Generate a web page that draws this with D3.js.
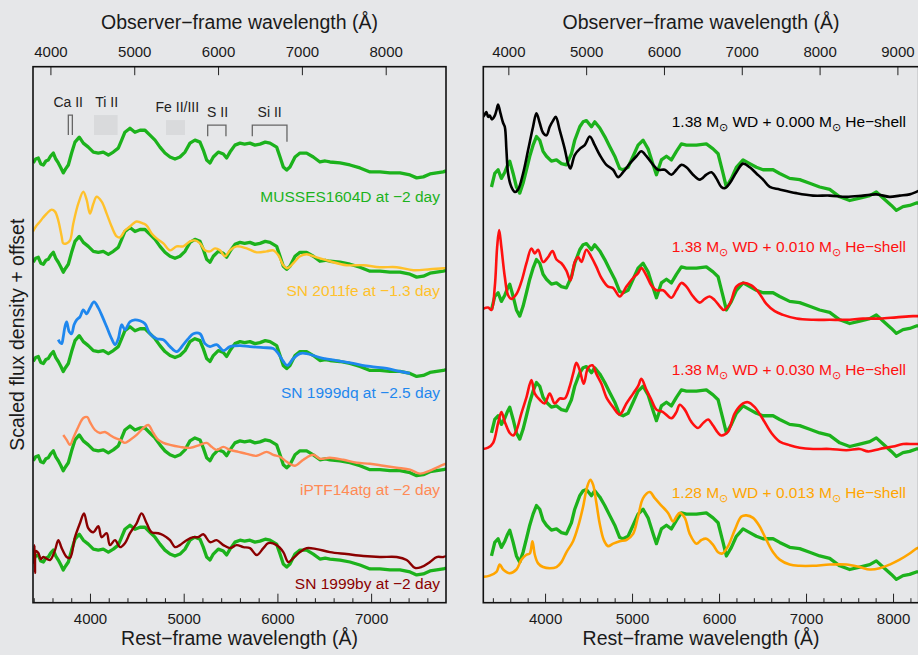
<!DOCTYPE html>
<html><head><meta charset="utf-8">
<script src="https://cdn.jsdelivr.net/npm/d3@7"></script>
<style>
body{margin:0;background:#e6e7e9;}
svg{display:block;font-family:"Liberation Sans",Arial,Helvetica,sans-serif;}
</style></head><body>
<svg id="chart" width="918" height="655"></svg>
<script>
// ---------------- DATA ----------------
const redshift = 0.118;

// MUSSES1604D as drawn in the left panel: [rest wavelength (Å), scaled flux]
const musses_left = [[3395,0.43],[3420,0.47],[3449,0.48],[3475,0.42],[3502,0.41],[3530,0.45],[3555,0.46],[3580,0.50],[3609,0.53],[3635,0.47],[3662,0.43],[3690,0.38],[3715,0.33],[3740,0.37],[3769,0.41],[3804,0.53],[3840,0.64],[3886,0.69],[3929,0.63],[3982,0.59],[4036,0.54],[4089,0.53],[4142,0.54],[4196,0.51],[4249,0.54],[4302,0.58],[4338,0.66],[4373,0.74],[4427,0.78],[4480,0.74],[4534,0.76],[4587,0.76],[4640,0.71],[4694,0.66],[4747,0.59],[4800,0.53],[4854,0.49],[4907,0.47],[4960,0.49],[5014,0.54],[5067,0.63],[5120,0.66],[5174,0.64],[5209,0.56],[5245,0.46],[5281,0.43],[5316,0.49],[5369,0.54],[5423,0.52],[5458,0.48],[5494,0.54],[5547,0.61],[5601,0.63],[5650,0.62],[5707,0.63],[5760,0.61],[5814,0.62],[5870,0.64],[5921,0.63],[5992,0.59],[6028,0.49],[6063,0.39],[6099,0.36],[6134,0.39],[6188,0.49],[6241,0.53],[6312,0.53],[6383,0.49],[6454,0.44],[6510,0.45],[6561,0.44],[6668,0.43],[6774,0.41],[6881,0.38],[6988,0.34],[7094,0.34],[7201,0.33],[7308,0.33],[7415,0.31],[7486,0.28],[7557,0.29],[7628,0.32],[7699,0.33],[7770,0.34],[7800,0.35]];

const sn2011fe = [[3392,0.74],[3430,0.80],[3467,0.84],[3500,0.88],[3538,0.92],[3591,0.96],[3627,0.94],[3662,0.85],[3698,0.69],[3715,0.62],[3751,0.62],[3787,0.65],[3822,0.82],[3875,1.02],[3929,1.14],[3964,1.06],[4000,0.92],[4036,1.02],[4071,1.09],[4125,1.04],[4178,0.92],[4231,0.79],[4285,0.69],[4320,0.68],[4373,0.75],[4427,0.79],[4462,0.82],[4498,0.84],[4569,0.82],[4605,0.80],[4658,0.72],[4711,0.67],[4783,0.62],[4854,0.55],[4925,0.59],[4996,0.59],[5067,0.64],[5120,0.65],[5174,0.62],[5227,0.55],[5281,0.54],[5334,0.57],[5387,0.55],[5441,0.49],[5494,0.55],[5565,0.59],[5672,0.57],[5779,0.53],[5885,0.54],[5956,0.55],[6010,0.50],[6063,0.40],[6106,0.37],[6170,0.42],[6241,0.49],[6312,0.51],[6419,0.48],[6561,0.44],[6739,0.40],[6917,0.40],[7094,0.38],[7273,0.38],[7450,0.35],[7628,0.36],[7770,0.37],[7800,0.37]];

const sn1999dq = [[3662,0.65],[3680,0.62],[3698,0.61],[3715,0.68],[3733,0.78],[3751,0.83],[3779,0.73],[3804,0.71],[3830,0.80],[3858,0.85],[3893,0.88],[3929,0.95],[3964,0.91],[4000,0.97],[4043,1.03],[4089,0.97],[4124,0.90],[4178,0.78],[4231,0.66],[4267,0.60],[4302,0.66],[4338,0.80],[4373,0.75],[4427,0.83],[4480,0.85],[4534,0.84],[4587,0.81],[4640,0.71],[4711,0.66],[4783,0.65],[4854,0.58],[4925,0.53],[4996,0.60],[5049,0.66],[5103,0.71],[5174,0.71],[5227,0.61],[5281,0.58],[5352,0.60],[5423,0.54],[5494,0.58],[5601,0.59],[5707,0.58],[5850,0.57],[5956,0.56],[6010,0.51],[6063,0.43],[6106,0.39],[6170,0.46],[6241,0.51],[6312,0.51],[6454,0.47],[6632,0.44],[6810,0.41],[6988,0.38],[7166,0.36],[7308,0.33],[7415,0.31]];

const iptf14atg = [[3715,0.69],[3751,0.64],[3787,0.59],[3822,0.66],[3875,0.77],[3929,0.86],[3972,0.87],[4000,0.82],[4053,0.74],[4107,0.71],[4160,0.72],[4213,0.69],[4267,0.66],[4320,0.64],[4373,0.61],[4427,0.64],[4498,0.69],[4569,0.76],[4622,0.79],[4676,0.71],[4729,0.64],[4783,0.61],[4854,0.59],[4960,0.57],[5067,0.56],[5174,0.59],[5245,0.61],[5298,0.57],[5352,0.54],[5423,0.57],[5494,0.54],[5583,0.52],[5672,0.50],[5779,0.48],[5885,0.52],[5956,0.49],[6028,0.47],[6099,0.42],[6188,0.38],[6277,0.44],[6383,0.49],[6454,0.45],[6561,0.46],[6703,0.44],[6846,0.41],[6988,0.40],[7130,0.38],[7273,0.36],[7415,0.34],[7522,0.30],[7628,0.33],[7770,0.39],[7800,0.40]];

const sn1999by = [[3392,0.50],[3400,0.40],[3408,0.58],[3413,0.30],[3425,0.52],[3449,0.50],[3475,0.44],[3502,0.46],[3573,0.43],[3627,0.53],[3662,0.63],[3698,0.55],[3751,0.46],[3787,0.45],[3840,0.66],[3893,0.80],[3936,0.90],[3982,0.75],[4036,0.71],[4089,0.77],[4124,0.66],[4178,0.70],[4213,0.58],[4267,0.63],[4320,0.56],[4373,0.60],[4427,0.70],[4498,0.80],[4551,0.90],[4605,0.80],[4658,0.71],[4729,0.70],[4783,0.68],[4854,0.63],[4907,0.56],[4960,0.58],[5031,0.63],[5103,0.66],[5156,0.66],[5209,0.69],[5281,0.61],[5352,0.63],[5423,0.58],[5494,0.55],[5565,0.58],[5636,0.56],[5707,0.55],[5779,0.48],[5850,0.55],[5903,0.60],[5992,0.58],[6063,0.51],[6116,0.41],[6170,0.45],[6241,0.51],[6312,0.55],[6419,0.54],[6561,0.51],[6739,0.49],[6917,0.47],[7094,0.46],[7273,0.46],[7379,0.43],[7468,0.35],[7539,0.36],[7628,0.41],[7699,0.46],[7770,0.46],[7800,0.47]];

// MUSSES1604D as drawn in the right panel (different normalisation)
const musses_right = [[3384,0.38],[3422,0.49],[3460,0.52],[3498,0.45],[3537,0.50],[3565,0.55],[3594,0.59],[3633,0.49],[3671,0.38],[3709,0.33],[3747,0.41],[3786,0.52],[3824,0.63],[3862,0.72],[3901,0.79],[3939,0.76],[3977,0.67],[4016,0.63],[4073,0.59],[4131,0.60],[4188,0.57],[4245,0.56],[4303,0.65],[4341,0.76],[4399,0.87],[4437,0.91],[4475,0.92],[4533,0.87],[4571,0.91],[4629,0.86],[4686,0.79],[4743,0.71],[4801,0.63],[4858,0.53],[4897,0.52],[4954,0.54],[5012,0.63],[5069,0.72],[5127,0.76],[5184,0.69],[5242,0.56],[5280,0.48],[5337,0.60],[5395,0.63],[5452,0.60],[5510,0.67],[5567,0.73],[5625,0.72],[5740,0.72],[5854,0.73],[5931,0.69],[5989,0.65],[6046,0.49],[6084,0.38],[6142,0.45],[6199,0.54],[6276,0.60],[6353,0.57],[6429,0.54],[6506,0.52],[6621,0.52],[6697,0.49],[6812,0.45],[6927,0.44],[7042,0.41],[7157,0.38],[7272,0.36],[7387,0.30],[7502,0.27],[7617,0.29],[7732,0.31],[7808,0.34],[7885,0.29],[7981,0.23],[8038,0.19],[8115,0.22],[8191,0.23],[8268,0.25],[8300,0.25]];

const model_138_000 = [[3288,0.95],[3307,0.97],[3326,0.99],[3345,0.95],[3364,0.96],[3390,0.93],[3422,0.96],[3440,1.00],[3460,1.05],[3487,0.98],[3518,0.90],[3537,0.87],[3556,0.68],[3575,0.49],[3613,0.38],[3652,0.34],[3690,0.36],[3747,0.49],[3805,0.68],[3862,0.87],[3901,0.98],[3939,0.90],[3977,0.82],[4016,0.80],[4054,0.87],[4092,0.92],[4123,0.95],[4169,0.84],[4226,0.69],[4265,0.57],[4291,0.53],[4341,0.64],[4399,0.69],[4456,0.72],[4514,0.79],[4571,0.72],[4629,0.64],[4705,0.56],[4782,0.52],[4839,0.46],[4897,0.50],[4973,0.57],[5050,0.63],[5107,0.67],[5165,0.63],[5242,0.56],[5299,0.52],[5376,0.52],[5452,0.48],[5510,0.52],[5567,0.56],[5625,0.54],[5701,0.48],[5778,0.44],[5854,0.48],[5912,0.50],[5969,0.45],[6027,0.38],[6065,0.37],[6123,0.41],[6199,0.50],[6276,0.57],[6353,0.54],[6429,0.49],[6506,0.44],[6583,0.38],[6697,0.36],[6889,0.33],[7080,0.31],[7272,0.31],[7464,0.30],[7655,0.31],[7808,0.32],[7961,0.30],[8076,0.31],[8191,0.32],[8268,0.34],[8300,0.35]];

const model_138_010 = [[3288,0.39],[3345,0.40],[3384,0.38],[3422,0.57],[3449,0.89],[3472,1.03],[3498,0.89],[3537,0.65],[3575,0.50],[3613,0.47],[3671,0.51],[3728,0.61],[3786,0.76],[3843,0.88],[3882,0.84],[3920,0.87],[3977,0.77],[4035,0.81],[4085,0.86],[4131,0.79],[4188,0.76],[4245,0.70],[4291,0.62],[4341,0.77],[4380,0.81],[4418,0.77],[4475,0.87],[4533,0.81],[4590,0.73],[4648,0.64],[4724,0.57],[4782,0.56],[4858,0.49],[4935,0.57],[5012,0.64],[5069,0.68],[5107,0.72],[5165,0.66],[5222,0.58],[5280,0.54],[5356,0.54],[5452,0.48],[5510,0.54],[5567,0.60],[5625,0.57],[5701,0.49],[5778,0.44],[5835,0.47],[5893,0.49],[5950,0.46],[6008,0.41],[6054,0.38],[6123,0.43],[6199,0.57],[6276,0.60],[6372,0.58],[6448,0.53],[6544,0.43],[6640,0.37],[6736,0.34],[6889,0.31],[7080,0.30],[7272,0.30],[7464,0.30],[7655,0.31],[7847,0.31],[8038,0.32],[8230,0.33],[8300,0.33]];

const model_138_030 = [[3288,0.25],[3345,0.26],[3403,0.30],[3460,0.46],[3498,0.55],[3537,0.47],[3594,0.38],[3633,0.36],[3671,0.40],[3728,0.54],[3786,0.67],[3843,0.81],[3882,0.70],[3939,0.65],[3996,0.62],[4054,0.70],[4111,0.62],[4169,0.66],[4226,0.66],[4284,0.76],[4322,0.86],[4360,0.95],[4399,0.89],[4445,0.78],[4494,0.91],[4544,0.93],[4590,0.86],[4648,0.78],[4705,0.67],[4782,0.59],[4858,0.53],[4935,0.62],[5012,0.70],[5069,0.76],[5107,0.82],[5165,0.73],[5222,0.65],[5280,0.57],[5356,0.55],[5452,0.50],[5510,0.55],[5548,0.61],[5606,0.57],[5682,0.47],[5759,0.42],[5816,0.46],[5874,0.49],[5931,0.44],[5989,0.38],[6027,0.36],[6104,0.39],[6180,0.54],[6276,0.62],[6333,0.63],[6410,0.59],[6506,0.49],[6602,0.38],[6697,0.31],[6812,0.28],[6927,0.26],[7080,0.25],[7272,0.25],[7464,0.24],[7617,0.25],[7713,0.23],[7847,0.25],[8000,0.27],[8115,0.29],[8230,0.29],[8300,0.29]];

const model_128_013 = [[3288,0.21],[3364,0.22],[3441,0.25],[3479,0.31],[3518,0.27],[3594,0.24],[3671,0.27],[3728,0.35],[3786,0.39],[3824,0.40],[3855,0.50],[3882,0.39],[3920,0.32],[3977,0.29],[4054,0.28],[4131,0.29],[4188,0.33],[4245,0.41],[4322,0.50],[4380,0.62],[4437,0.78],[4483,0.94],[4521,1.00],[4552,0.96],[4590,0.81],[4629,0.64],[4675,0.51],[4724,0.46],[4782,0.48],[4858,0.50],[4935,0.51],[5012,0.56],[5069,0.70],[5127,0.85],[5203,0.90],[5261,0.85],[5337,0.79],[5414,0.73],[5471,0.66],[5510,0.70],[5548,0.73],[5606,0.69],[5663,0.56],[5740,0.48],[5797,0.51],[5854,0.52],[5931,0.47],[5989,0.41],[6038,0.40],[6104,0.46],[6180,0.59],[6257,0.70],[6314,0.71],[6391,0.69],[6467,0.62],[6544,0.51],[6621,0.41],[6697,0.35],[6812,0.31],[6927,0.30],[7080,0.30],[7272,0.31],[7464,0.31],[7617,0.29],[7732,0.27],[7847,0.28],[7962,0.31],[8076,0.35],[8191,0.40],[8268,0.44],[8300,0.45]];

// left panel comparison objects (top to bottom)
const leftNames   = ["MUSSES1604D at \u22122 day","SN 2011fe at \u22121.3 day","SN 1999dq at \u22122.5 day","iPTF14atg at \u22122 day","SN 1999by at \u22122 day"];
const leftSpectra = [null, sn2011fe, sn1999dq, iptf14atg, sn1999by];
const leftOffsets = [4, 3, 2, 1, 0];

// right panel models (top to bottom)
const wdMass   = ["1.38","1.38","1.38","1.28"];
const heMass   = ["0.000","0.010","0.030","0.013"];
const models   = [model_138_000, model_138_010, model_138_030, model_128_013];
const rightOffsets = [3, 2, 1, 0];

// line identifications: [name, blue edge, red edge] in rest-frame Å
const lineNames = ["Ca II","Ti II","Fe II/III","S II","Si II"];
const lineLo    = [3769, 4043, 4811, 5256, 5732];
const lineHi    = [3812, 4295, 5014, 5451, 6102];

// axis ticks
const leftMajor  = [4000,5000,6000,7000];
const rightMajor = [4000,5000,6000,7000,8000];
const leftObs    = [4000,5000,6000,7000,8000];
const rightObs   = [4000,5000,6000,7000,8000,9000];

// ---------------- STYLE / LAYOUT ----------------
const cGreen = "#1cb21c";
const leftColors  = [cGreen, "#ffc12b", "#1f87ee", "#ff8a55", "#8b0000"];
const modelColors = ["#000000", "#ff1010", "#ff1010", "#ffa500"];
const leftLabelY  = [4.037, 3.09, 2.062, 1.085, 0.137];
const rightLabelY = [3.868, 2.854, 1.851, 0.849];
const markType = ["bracket","box","box","bracket","bracket"];
const markLabelX = [3768, 4178, 4932, 5362, 5917];
const markLabelY = [4.99, 4.99, 4.94, 4.89, 4.89];
const markTop = [4.913, 4.913, 4.862, 4.812, 4.812];
const markBotL = [4.712, 4.712, 4.712, 4.70, 4.70];
const markBotR = [4.712, 4.712, 4.712, 4.70, 4.644];

const FONT = '"Liberation Sans",Arial,Helvetica,sans-serif';
const svg = d3.select("#chart");
svg.append("rect").attr("width",918).attr("height",655).attr("fill","#e6e7e9");

const yTop = 66.7, yBot = 602.7;
const L = {x0:33, x1:446};
const R = {x0:483.3, x1:918.7};

const xL = d3.scaleLinear().domain([3392,7799]).range([L.x0,L.x1]);
const yL = d3.scaleLinear().domain([0,5.4]).range([yBot,yTop]);
const xR = d3.scaleLinear().domain([3290,8295]).range([R.x0,R.x1]);
const yR = d3.scaleLinear().domain([0,4.358]).range([yBot,yTop]);

function range200(a,b){const r=[];for(let v=a;v<=b;v+=200)r.push(v);return r;}

function clip(id, P){
  svg.append("clipPath").attr("id",id).append("rect")
    .attr("x",P.x0).attr("y",yTop).attr("width",P.x1-P.x0).attr("height",yBot-yTop);
}
clip("clipL",L); clip("clipR",R);

function axes(P, x, major, obsTicks){
  const minor = range200(Math.ceil(x.domain()[0]/200)*200, x.domain()[1]).filter(v=>major.indexOf(v)<0);
  const gB = svg.append("g").attr("transform",`translate(0,${yBot})`);
  gB.call(d3.axisBottom(x).tickValues(minor).tickSize(-4.5).tickFormat(""));
  const gB2 = svg.append("g").attr("transform",`translate(0,${yBot})`);
  gB2.call(d3.axisBottom(x).tickValues(major).tickSize(-9).tickPadding(10.5).tickFormat(d3.format("d")));
  const obs = d3.scaleLinear().domain(x.domain().map(d=>d*(1+redshift))).range(x.range());
  const gT = svg.append("g").attr("transform",`translate(0,${yTop})`);
  gT.call(d3.axisTop(obs).tickValues(obsTicks).tickSize(-8.5).tickPadding(10).tickFormat(d3.format("d")));
  [gB,gB2,gT].forEach(g=>{
    g.select(".domain").remove();
    g.selectAll("line").attr("stroke","#222").attr("stroke-width",1);
    g.selectAll("text").attr("font-size",15).attr("font-family",FONT).attr("fill","#1a1a1a");
  });
  const cx = (P.x0+P.x1)/2;
  svg.append("text").attr("x",cx).attr("y",29).attr("text-anchor","middle")
    .attr("font-size",19.5).attr("fill","#1a1a1a").text("Observer\u2212frame wavelength (\u00c5)");
  svg.append("text").attr("x",cx).attr("y",645).attr("text-anchor","middle")
    .attr("font-size",19.5).attr("fill","#1a1a1a").text("Rest\u2212frame wavelength (\u00c5)");
}

function lineGen(x,y,off,curve){
  return d3.line().x(d=>x(d[0])).y(d=>y(d[1]+off)).curve(curve);
}
const smooth = d3.curveCatmullRom.alpha(0.5);

// ---- left panel ----
const gL = svg.append("g").attr("clip-path","url(#clipL)");
leftOffsets.forEach((off,i)=>{
  gL.append("path").datum(musses_left).attr("fill","none").attr("stroke",cGreen)
    .attr("stroke-width",3.3).attr("stroke-linejoin","round")
    .attr("d",lineGen(xL,yL,off,d3.curveLinear));
  if(leftSpectra[i]){
    gL.append("path").datum(leftSpectra[i]).attr("fill","none").attr("stroke",leftColors[i])
      .attr("stroke-width",i===2?2.8:2.4).attr("stroke-linejoin","round")
      .attr("d",lineGen(xL,yL,off,smooth));
  }
});
leftNames.forEach((n,i)=>{
  svg.append("text").attr("x",L.x1-6).attr("y",yL(leftLabelY[i])).attr("text-anchor","end")
    .attr("font-size",15.5).attr("fill",leftColors[i]).text(n);
});

// line identification marks
lineNames.forEach((n,i)=>{
  const a = xL(lineLo[i]), b = xL(lineHi[i]);
  if(markType[i]==="box"){
    svg.append("rect").attr("x",a).attr("y",yL(markTop[i])).attr("width",b-a)
      .attr("height",yL(markBotL[i])-yL(markTop[i])).attr("fill","#d9dadc");
  } else {
    svg.append("path").attr("fill","none").attr("stroke","#666").attr("stroke-width",1.3)
      .attr("d",`M${a},${yL(markBotL[i])}V${yL(markTop[i])}H${b}V${yL(markBotR[i])}`);
  }
  svg.append("text").attr("x",xL(markLabelX[i])).attr("y",yL(markLabelY[i]))
    .attr("text-anchor","middle").attr("font-size",14).attr("fill","#222").text(n);
});

// ---- right panel ----
const gR = svg.append("g").attr("clip-path","url(#clipR)");
rightOffsets.forEach((off,i)=>{
  gR.append("path").datum(musses_right).attr("fill","none").attr("stroke",cGreen)
    .attr("stroke-width",3.3).attr("stroke-linejoin","round")
    .attr("d",lineGen(xR,yR,off,d3.curveLinear));
  gR.append("path").datum(models[i]).attr("fill","none").attr("stroke",modelColors[i])
    .attr("stroke-width",2.6).attr("stroke-linejoin","round")
    .attr("d",lineGen(xR,yR,off,smooth));
});
models.forEach((m,i)=>{
  const t = svg.append("text").attr("x",R.x1-12.7).attr("y",yR(rightLabelY[i]))
    .attr("text-anchor","end").attr("font-size",15.5).attr("fill",modelColors[i]);
  t.append("tspan").text(wdMass[i]+" M");
  t.append("tspan").attr("font-size",11).attr("dy",4).text("\u2299");
  t.append("tspan").attr("dy",-4).text(" WD + "+heMass[i]+" M");
  t.append("tspan").attr("font-size",11).attr("dy",4).text("\u2299");
  t.append("tspan").attr("dy",-4).text(" He\u2212shell");
});

axes(L,xL,leftMajor,leftObs);
axes(R,xR,rightMajor,rightObs);

// frames
[L,R].forEach(P=>{
  svg.append("rect").attr("x",P.x0).attr("y",yTop).attr("width",P.x1-P.x0).attr("height",yBot-yTop)
    .attr("fill","none").attr("stroke","#111").attr("stroke-width",1.6);
});

// y label
svg.append("text").attr("transform",`translate(24,${(yTop+yBot)/2}) rotate(-90)`)
  .attr("text-anchor","middle").attr("font-size",19.5).attr("fill","#1a1a1a")
  .text("Scaled flux density + offset");
</script>
</body></html>
